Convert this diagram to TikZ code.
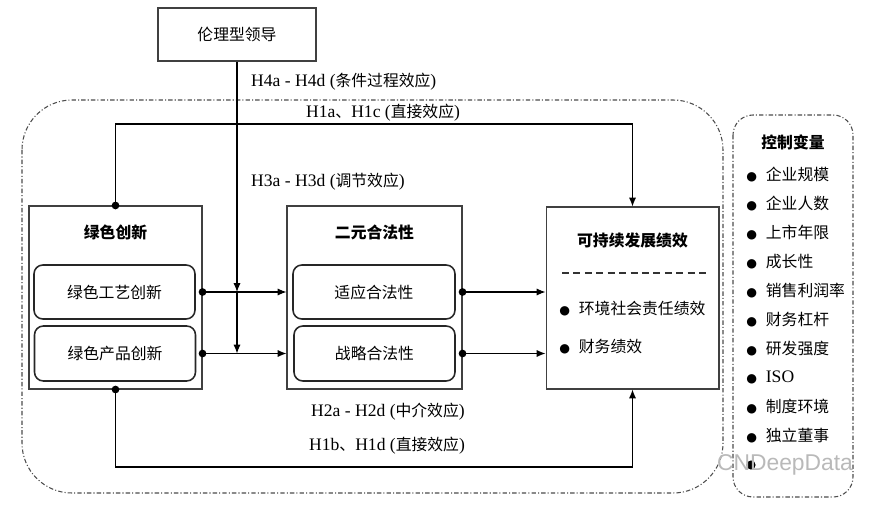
\documentclass[tikz,border=0pt]{standalone}
\usepackage{fontspec}
\setmainfont{Liberation Serif}
\newfontfamily\cjk[Scale=0.9]{Noto Sans CJK SC}
\newfontfamily\wmfont{Liberation Sans}
\newfontfamily\symfont[Scale=0.7]{DejaVu Sans}
\usetikzlibrary{arrows.meta}
\newcommand{\zh}[1]{{\cjk #1}}
\newcommand{\dotmark}{{\symfont ●}}

\begin{document}
\begin{tikzpicture}[x=0.02cm,y=-0.02cm,
	font=\fontsize{10}{12}\selectfont,
	outerbox/.style={draw=black!75,line width=0.6pt,minimum width=3.46cm,minimum height=3.66cm},
	innerbox/.style={draw=black!85,line width=0.9pt,rounded corners=5pt,minimum width=3.22cm,minimum height=1.08cm},
	link/.style={line width=0.6pt,-{Latex[length=5pt,width=4pt]}},
	dashdot/.style={line width=0.6pt,black!70,dash pattern=on 2.5pt off 1.2pt on 0.6pt off 1.2pt},
	listitem/.style={anchor=west,inner sep=0pt}]

	\useasboundingbox (0,0) rectangle (874,506);

	% frames
	\draw[dashdot,rounded corners=1cm] (22,100) rectangle (723,493);
	\draw[dashdot,rounded corners=0.4cm] (733,115) rectangle (853,497);

	\node[draw=black!75,line width=0.6pt,minimum width=3.16cm,minimum height=1.06cm] (lead) at (237,34.5) {\zh{伦理型领导}};

	% green innovation
	\node[outerbox] (gi) at (115.5,297.5) {};
	\node (gititle) at (115.5,232) {\zh{\bfseries 绿色创新}};
	\node[innerbox] (gp) at (114.5,292) {\zh{绿色工艺创新}};
	\node[innerbox,minimum height=1.1cm] (gd) at (115,353.5) {\zh{绿色产品创新}};

	% legitimacy
	\node[outerbox,minimum width=3.5cm] (dl) at (374.5,297.5) {};
	\node (dltitle) at (374.5,232) {\zh{\bfseries 二元合法性}};
	\node[innerbox,minimum width=3.24cm] (sa) at (374,292) {\zh{适应合法性}};
	\node[innerbox,minimum height=1.1cm] (ss) at (374.5,353.5) {\zh{战略合法性}};

	% performance
	\node[outerbox,minimum height=3.64cm] (sdp) at (632.5,298) {};
	\node (sdptitle) at (632.5,240) {\zh{\bfseries 可持续发展绩效}};
	\draw[black!80,line width=0.6pt,dash pattern=on 4pt off 2.5pt] (562,273) -- (708,273);
	\node[listitem] (esr) at (559,309) {\dotmark\hspace{5pt}\zh{环境社会责任绩效}};
	\node[listitem] (fin) at (559,347) {\dotmark\hspace{5pt}\zh{财务绩效}};

	% controls
	\node (ctrltitle) at (793,142) {\zh{\bfseries 控制变量}};
	\foreach \Item [count=\i] in {\zh{企业规模}, \zh{企业人数}, \zh{上市年限}, \zh{成长性}, \zh{销售利润率},
		\zh{财务杠杆}, \zh{研发强度}, ISO, \zh{制度环境}, \zh{独立董事}}{
		\node[listitem] (ctrl\i) at (746,145.5+29*\i) {\dotmark\hspace{5pt}\Item};
	};
	\fill (751,465) circle[radius=2.6pt];
	\node[text=gray!55,font=\wmfont\fontsize{13}{13}\selectfont] (wm) at (785,465) {CNDeepData};

	% paths
	\coordinate (toprow) at (0,124);
	\coordinate (botrow) at (0,467);
	\draw[link] (gi.north) |- (toprow -| sdp.north) -- (sdp.north);
	\draw[link] (gi.south) |- (botrow -| sdp.south) -- (sdp.south);
	\draw[link] (lead.south) -- (lead.south |- gp.east);
	\draw[link] (lead.south |- gp.east) -- (lead.south |- gd.east);
	\draw[link] (gi.east |- gp.east) -- (dl.west |- gp.east);
	\draw[link] (gi.east |- gd.east) -- (dl.west |- gd.east);
	\draw[link] (dl.east |- sa.east) -- (sdp.west |- sa.east);
	\draw[link] (dl.east |- ss.east) -- (sdp.west |- ss.east);
	\foreach \Point in {(gi.north), (gi.south), (gi.east |- gp.east), (gi.east |- gd.east),
		(dl.east |- sa.east), (dl.east |- ss.east)}{
		\fill \Point circle[radius=2.2pt];
	};

	% labels
	\node[anchor=west] (h4) at (245,82) {H4a - H4d (\zh{条件过程效应})};
	\node[anchor=west] (h1ac) at (300,113) {H1a\zh{、}H1c (\zh{直接效应})};
	\node[anchor=west] (h3) at (245,182) {H3a - H3d (\zh{调节效应})};
	\node[anchor=west] (h2) at (305,412) {H2a - H2d (\zh{中介效应})};
	\node[anchor=west] (h1bd) at (303,446) {H1b\zh{、}H1d (\zh{直接效应})};

\end{tikzpicture}
\end{document}
